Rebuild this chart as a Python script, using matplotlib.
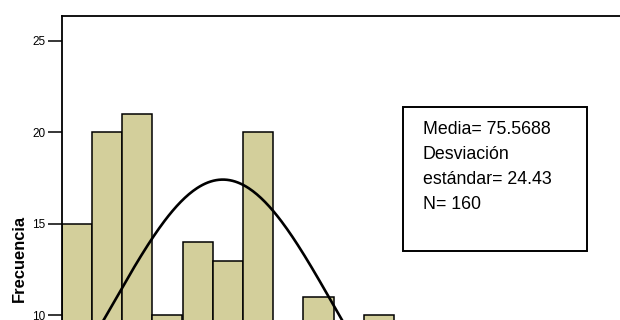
import numpy as np
import matplotlib
matplotlib.use("Agg")
import matplotlib.pyplot as plt
from matplotlib.patches import Rectangle

plt.rcParams['font.family'] = ['Liberation Sans', 'DejaVu Sans']

# Histogram bins (lower edges) and frequencies
bin_width = 20.0 / 3.0
bin_starts = [40 + i * bin_width for i in range(15)]
counts = [15, 20, 21, 10, 14, 13, 20, 8, 11, 6, 10, 5, 3, 2, 2]

# Summary statistics
media = 75.5688
desviacion = 24.43
n_total = 160

y_ticks = [10, 15, 20, 25]

W, H = 620, 320
fig = plt.figure(figsize=(W / 100, H / 100), dpi=100)

left_px, top_px = 61.7, 15.7
px_per_unit = 30.2 / bin_width
right_px = 700
ax = fig.add_axes([left_px / W, 0, (right_px - left_px) / W, (H - top_px) / H])

ax.bar(bin_starts, counts, width=bin_width, align='edge',
       color='#D3CF9B', edgecolor='black', linewidth=1.1, zorder=2)

xs = np.linspace(20, 200, 600)
pdf = np.exp(-0.5 * ((xs - media) / desviacion) ** 2) / (desviacion * np.sqrt(2 * np.pi))
ax.plot(xs, n_total * bin_width * pdf, color='black', linewidth=1.9, zorder=3)

ax.set_xlim(40, 40 + (right_px - left_px) / px_per_unit)
ax.set_ylim(9.754, 26.365)
ax.set_yticks(y_ticks)
ax.set_yticklabels([str(v) for v in y_ticks], fontsize=8.5)
ax.tick_params(axis='y', length=10, width=1.1, pad=1.5)
ax.set_xticks([])

for side in ('right', 'bottom'):
    ax.spines[side].set_visible(False)
for side in ('left', 'top'):
    ax.spines[side].set_linewidth(1.3)

fig.text(19.5 / W, 1 - 258 / H, 'Frecuencia', rotation=90, fontsize=11.9,
         fontweight='bold', ha='center', va='center')

# Statistics box
bx0, bx1, by0, by1 = 402.7, 587.3, 106.7, 250.7
fig.patches.append(Rectangle((bx0 / W, 1 - by1 / H), (bx1 - bx0) / W, (by1 - by0) / H,
                             transform=fig.transFigure, fill=False,
                             edgecolor='black', linewidth=1.4, zorder=5))
fig.text(423 / W, 1 - 121.5 / H,
         'Media= 75.5688\nDesviación\nestándar= 24.43\nN= 160',
         fontsize=12.8, ha='left', va='top', linespacing=1.6)

fig.savefig('out.png', dpi=100)
